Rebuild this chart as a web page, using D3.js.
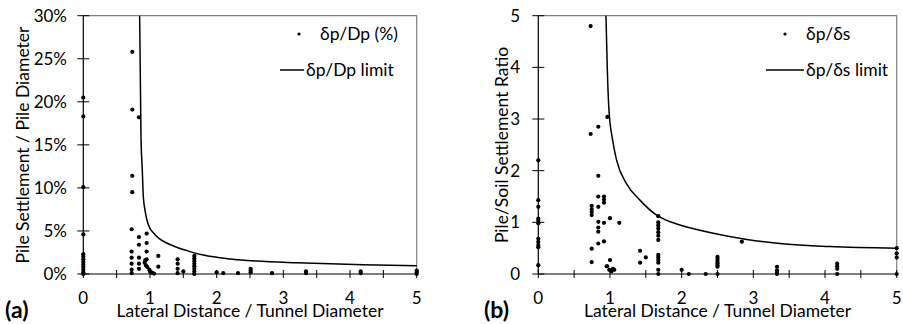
<!DOCTYPE html>
<meta charset="utf-8">
<script src="https://d3js.org/d3.v7.min.js"></script>
<style>
  body { margin: 0; background: #fff; }
  text { font-family: Lato, "Open Sans", sans-serif; fill: #000; }
</style>
<div id="chart"></div>
<script>
// ---- data ----
// (a) pile settlement / pile diameter (%) vs lateral distance / tunnel diameter
var aX = [0,0,0,0,0,0,0,0,0,0,0,0,0,
          0.735,0.735,0.735,0.735,0.725,0.725,0.725,0.725,0.725,0.725,
          0.835,0.835,0.835,0.835,0.835,0.835,
          0.95,0.95,0.95,0.95,
          0.93,0.92,0.94,0.96,0.99,1.0,1.03,1.06,
          1.125,1.125,
          1.415,1.415,1.415,1.415,1.5,
          1.665,1.665,1.665,1.665,1.665,1.665,1.665,1.665,
          2.0,2.1,2.32,2.51,2.51,2.51,2.83,3.34,3.34,4.16,4.16,5,5,5];
var aY = [20.5,18.3,10.1,4.6,2.3,2.0,1.7,1.4,1.1,0.8,0.5,0.2,0.0,
          25.8,19.1,11.4,9.5,5.2,2.6,1.9,1.2,0.5,0.1,
          18.2,4.3,3.4,1.9,1.2,0.6,
          4.7,3.6,2.6,1.7,
          1.6,1.3,1.0,0.8,0.5,0.3,0.15,0.05,
          2.1,0.85,
          1.7,1.2,0.6,0.1,0.3,
          2.1,1.8,1.5,1.2,0.9,0.6,0.3,0.0,
          0.2,0.1,0.1,0.2,0.4,0.6,0.1,0.1,0.3,0.1,0.3,0.0,0.2,0.4];
var aLimX = [0.845,0.865,0.885,0.9,0.93,0.96,1.0,1.05,1.125,1.25,1.4,1.6,1.8,2.2,2.6,3.2,4.2,5.0];
var aLimY = [30,16,12,9.0,7.2,6.1,5.3,4.8,4.2,3.6,3.1,2.6,2.2,1.75,1.5,1.3,1.08,0.97];

// (b) pile / soil settlement ratio vs lateral distance / tunnel diameter
var bX = [0,0,0,0,0,0,0,0,0,0,0,
          0.73,0.73,0.745,0.745,0.745,0.745,0.745,0.745,
          0.837,0.837,0.837,0.837,0.837,0.837,0.837,0.837,
          0.916,0.916,0.916,0.916,0.916,0.963,
          1.0,1.0,0.96,0.954,0.99,1.02,1.04,1.06,1.13,
          1.42,1.42,1.5,
          1.674,1.674,1.674,1.674,1.674,1.674,1.674,1.674,1.674,1.674,1.674,1.674,1.674,
          2.0,2.1,2.335,2.5,2.5,2.5,2.5,2.5,2.5,2.5,2.84,
          3.33,3.33,3.33,3.33,4.17,4.17,4.17,4.17,5,5,5,5];
var bY = [2.2,1.43,1.3,1.07,1.03,0.98,0.68,0.62,0.56,0.52,0.17,
          4.8,2.71,1.32,1.25,1.2,1.14,0.49,0.23,
          2.85,1.9,1.5,1.3,1.01,0.9,0.82,0.59,
          1.5,1.44,1.38,0.99,0.63,3.04,
          1.08,0.27,0.15,0.15,0.08,0.05,0.1,0.08,0.99,
          0.45,0.22,0.32,
          1.12,1.0,0.94,0.88,0.81,0.74,0.66,0.37,0.32,0.27,0.22,0.08,0.0,
          0.08,0.0,0.0,0.33,0.29,0.25,0.21,0.17,0.14,0.0,0.625,
          0.14,0.07,0.02,0.0,0.2,0.15,0.1,0.0,0.5,0.4,0.32,0.0];
var bLimX = [0.944,0.963,0.986,1.037,1.093,1.23,1.418,1.65,1.84,1.976,2.44,2.91,3.37,4.07,5.0];
var bLimY = [5.0,3.95,3.17,2.59,2.2,1.75,1.43,1.14,1.01,0.95,0.79,0.67,0.59,0.53,0.50];

var xMajor = [0,1,2,3,4,5];
var xTicks = [0,0.5,1,1.5,2,2.5,3,3.5,4,4.5,5];
var aYTicks = [0,5,10,15,20,25,30];
var bYTicks = [0,1,2,3,4,5];

var width = 903, height = 324;

var svg = d3.select("#chart")
  .append("svg")
    .attr("width", width)
    .attr("height", height);

function panel(opt) {
  var x = d3.scaleLinear().domain([0, 5]).range([opt.left, opt.right]);
  var y = d3.scaleLinear().domain(opt.yDomain).range([274, 15.7]);
  var g = svg.append("g");

  // top / right frame
  g.append("path")
    .attr("d", "M" + opt.left + "," + y.range()[1] + "H" + opt.right + "V" + y.range()[0])
    .attr("fill", "none")
    .attr("stroke", "#7f7f7f")
    .attr("stroke-width", 1.2);

  // y axis with crossing ticks
  g.append("line")
    .attr("x1", x(0)).attr("x2", x(0))
    .attr("y1", y.range()[0]).attr("y2", y.range()[1])
    .attr("stroke", "#000").attr("stroke-width", 1.2);
  g.selectAll(".ytick").data(opt.yTicks).enter().append("line")
    .attr("x1", x(0) - 6).attr("x2", x(0) + 6)
    .attr("y1", function(d) { return y(d); })
    .attr("y2", function(d) { return y(d); })
    .attr("stroke", "#000").attr("stroke-width", 1);
  g.selectAll(".ylab").data(opt.yTicks).enter().append("text")
    .attr("x", opt.yLabX)
    .attr("y", function(d) { return y(d); })
    .attr("dy", "0.35em")
    .attr("text-anchor", "end")
    .style("font-size", "17px")
    .text(opt.yFmt);

  // x axis with crossing ticks
  g.append("line")
    .attr("x1", x(0)).attr("x2", x(5))
    .attr("y1", y(0)).attr("y2", y(0))
    .attr("stroke", "#000").attr("stroke-width", 1.2);
  g.selectAll(".xtick").data(xTicks).enter().append("line")
    .attr("x1", function(d) { return x(d); })
    .attr("x2", function(d) { return x(d); })
    .attr("y1", y(0) - 4).attr("y2", y(0) + 4)
    .attr("stroke", "#000").attr("stroke-width", 1);
  g.selectAll(".xlab").data(xMajor).enter().append("text")
    .attr("x", function(d) { return x(d); })
    .attr("y", 304)
    .attr("text-anchor", "middle")
    .style("font-size", "17px")
    .text(function(d) { return d; });

  // titles
  g.append("text")
    .attr("x", (opt.left + opt.right) / 2)
    .attr("y", 317)
    .attr("text-anchor", "middle")
    .style("font-size", "17.5px")
    .text("Lateral Distance / Tunnel Diameter");
  g.append("text")
    .attr("transform", "translate(" + opt.yTitleX + ",145) rotate(-90)")
    .attr("text-anchor", "middle")
    .style("font-size", "17.5px")
    .text(opt.yTitle);
  g.append("text")
    .attr("x", opt.tagX)
    .attr("y", 318)
    .style("font-size", "23px")
    .style("font-weight", "bold")
    .text(opt.tag);

  // limit curve
  var line = d3.line()
    .x(function(d, i) { return x(opt.limX[i]); })
    .y(function(d, i) { return y(opt.limY[i]); })
    .curve(d3.curveMonotoneX);
  g.append("path")
    .datum(opt.limX)
    .attr("d", line)
    .attr("fill", "none")
    .attr("stroke", "#000")
    .attr("stroke-width", 1.5);

  // points
  g.selectAll(".pt").data(opt.ptX).enter().append("circle")
    .attr("cx", function(d) { return x(d); })
    .attr("cy", function(d, i) { return y(opt.ptY[i]); })
    .attr("r", 2.1)
    .attr("fill", "#000");

  // legend
  g.append("circle")
    .attr("cx", opt.legDot).attr("cy", 34).attr("r", 1.6).attr("fill", "#000");
  g.append("text")
    .attr("x", opt.legDot + 21).attr("y", 34).attr("dy", "0.35em")
    .style("font-size", "17.5px")
    .text(opt.legPts);
  g.append("line")
    .attr("x1", opt.legLine[0]).attr("x2", opt.legLine[1])
    .attr("y1", 70).attr("y2", 70)
    .attr("stroke", "#000").attr("stroke-width", 1.5);
  g.append("text")
    .attr("x", opt.legLine[1] + 2).attr("y", 70).attr("dy", "0.35em")
    .style("font-size", "17.5px")
    .text(opt.legLim);
}

panel({
  left: 83.3, right: 416.7, yDomain: [0, 30], yTicks: aYTicks,
  yFmt: function(d) { return d + "%"; }, yLabX: 67,
  yTitle: "Pile Settlement / Pile Diameter", yTitleX: 29,
  tag: "(a)", tagX: 5,
  limX: aLimX, limY: aLimY, ptX: aX, ptY: aY,
  legDot: 299, legPts: "δp/Dp (%)", legLine: [280, 304], legLim: "δp/Dp limit"
});

panel({
  left: 538.3, right: 896.7, yDomain: [0, 5], yTicks: bYTicks,
  yFmt: function(d) { return d; }, yLabX: 520,
  yTitle: "Pile/Soil Settlement Ratio", yTitleX: 508,
  tag: "(b)", tagX: 484,
  limX: bLimX, limY: bLimY, ptX: bX, ptY: bY,
  legDot: 785, legPts: "δp/δs", legLine: [766, 804], legLim: "δp/δs limit"
});
</script>
